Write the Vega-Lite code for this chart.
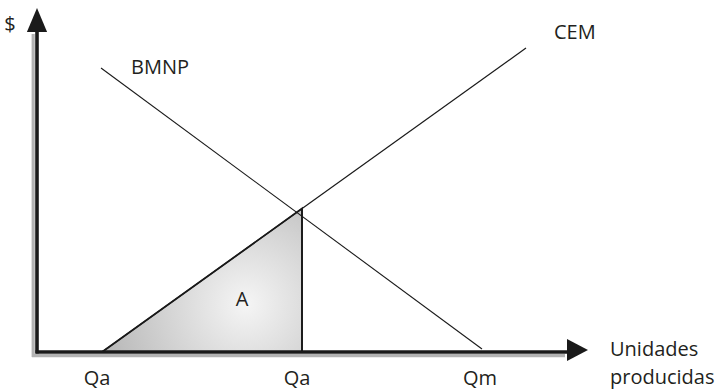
{
  "$schema": "https://vega.github.io/schema/vega-lite/v6.json",
  "width": 718,
  "height": 392,
  "padding": 0,
  "autosize": {"type": "fit", "contains": "padding"},
  "background": "white",
  "config": {"view": {"stroke": null}},
  "datasets": {
    "bmnp": [{"x": 64, "y": 284}, {"x": 445, "y": 3}],
    "cem": [{"x": 65, "y": 0}, {"x": 489, "y": 304}],
    "areaA": [{"x": 65, "y": 0}, {"x": 265, "y": 143.4}],
    "vline": [{"x": 265, "y": 0, "y2": 143.4}],
    "axes": [
      {"name": "yaxis", "x": 0, "x2": 0, "y": -1.5, "y2": 320},
      {"name": "xaxis", "x": -1.5, "x2": 531, "y": 0, "y2": 0}
    ],
    "shadows": [
      {"name": "yshadow", "x": -3.8, "x2": -3.8, "y": -5, "y2": 318},
      {"name": "xshadow", "x": -5, "x2": 528, "y": -3.6, "y2": -3.6}
    ],
    "arrowUp": [{"x": 0, "y": 320}],
    "arrowRight": [{"x": 530, "y": 2}],
    "labels": [
      {"t": "$", "x": -27, "y": 327, "a": "center"},
      {"t": "BMNP", "x": 94, "y": 284, "a": "left"},
      {"t": "CEM", "x": 517, "y": 319, "a": "left"},
      {"t": "A", "x": 205, "y": 52, "a": "center"},
      {"t": "Qa", "x": 60, "y": -27, "a": "center"},
      {"t": "Qa", "x": 260, "y": -27, "a": "center"},
      {"t": "Qm", "x": 443, "y": -27, "a": "center"},
      {"t": "Unidades", "x": 573, "y": 2, "a": "left"},
      {"t": "producidas", "x": 573, "y": -26, "a": "left"}
    ]
  },
  "layer": [
    {
      "data": {"name": "shadows"},
      "mark": {"type": "rule", "color": "#b3b3b3", "strokeWidth": 3.2},
      "encoding": {
        "x": {"field": "x", "type": "quantitative", "scale": {"domain": [-37, 681], "nice": false, "zero": false}, "axis": null},
        "x2": {"field": "x2"},
        "y": {"field": "y", "type": "quantitative", "scale": {"domain": [-40, 352], "nice": false, "zero": false}, "axis": null},
        "y2": {"field": "y2"}
      }
    },
    {
      "data": {"name": "areaA"},
      "mark": {
        "type": "area",
        "fill": {
          "gradient": "radial",
          "x1": 0.72, "y1": 0.62, "r1": 0,
          "x2": 0.72, "y2": 0.62, "r2": 0.8,
          "stops": [
            {"offset": 0, "color": "#f5f5f5"},
            {"offset": 1, "color": "#b2b2b2"}
          ]
        },
        "stroke": "#1a1a1a",
        "strokeWidth": 1.8
      },
      "encoding": {
        "x": {"field": "x", "type": "quantitative", "axis": null},
        "y": {"field": "y", "type": "quantitative", "axis": null},
        "y2": {"datum": 0}
      }
    },
    {
      "data": {"name": "bmnp"},
      "mark": {"type": "line", "color": "#1a1a1a", "strokeWidth": 1.1},
      "encoding": {
        "x": {"field": "x", "type": "quantitative", "axis": null},
        "y": {"field": "y", "type": "quantitative", "axis": null}
      }
    },
    {
      "data": {"name": "cem"},
      "mark": {"type": "line", "color": "#1a1a1a", "strokeWidth": 1.2},
      "encoding": {
        "x": {"field": "x", "type": "quantitative", "axis": null},
        "y": {"field": "y", "type": "quantitative", "axis": null}
      }
    },
    {
      "data": {"name": "vline"},
      "mark": {"type": "rule", "color": "#1a1a1a", "strokeWidth": 1.6},
      "encoding": {
        "x": {"field": "x", "type": "quantitative", "axis": null},
        "y": {"field": "y", "type": "quantitative", "axis": null},
        "y2": {"field": "y2"}
      }
    },
    {
      "data": {"name": "axes"},
      "mark": {"type": "rule", "color": "#1a1a1a", "strokeWidth": 3.6},
      "encoding": {
        "x": {"field": "x", "type": "quantitative", "axis": null},
        "x2": {"field": "x2"},
        "y": {"field": "y", "type": "quantitative", "axis": null},
        "y2": {"field": "y2"}
      }
    },
    {
      "data": {"name": "arrowUp"},
      "mark": {"type": "point", "shape": "M0,-1L0.42,0L-0.42,0Z", "size": 2304, "filled": true, "color": "#1a1a1a", "opacity": 1, "strokeWidth": 0},
      "encoding": {
        "x": {"field": "x", "type": "quantitative", "axis": null},
        "y": {"field": "y", "type": "quantitative", "axis": null}
      }
    },
    {
      "data": {"name": "arrowRight"},
      "mark": {"type": "point", "shape": "M1,0L0,0.52L0,-0.52Z", "size": 1764, "filled": true, "color": "#1a1a1a", "opacity": 1, "strokeWidth": 0},
      "encoding": {
        "x": {"field": "x", "type": "quantitative", "axis": null},
        "y": {"field": "y", "type": "quantitative", "axis": null}
      }
    },
    {
      "data": {"name": "labels"},
      "transform": [{"filter": "datum.a === 'center'"}],
      "mark": {"type": "text", "font": "Open Sans", "fontSize": 20, "color": "#231f20", "baseline": "middle", "align": "center"},
      "encoding": {
        "x": {"field": "x", "type": "quantitative", "axis": null},
        "y": {"field": "y", "type": "quantitative", "axis": null},
        "text": {"field": "t"}
      }
    },
    {
      "data": {"name": "labels"},
      "transform": [{"filter": "datum.a === 'left'"}],
      "mark": {"type": "text", "font": "Open Sans", "fontSize": 20, "color": "#231f20", "baseline": "middle", "align": "left"},
      "encoding": {
        "x": {"field": "x", "type": "quantitative", "axis": null},
        "y": {"field": "y", "type": "quantitative", "axis": null},
        "text": {"field": "t"}
      }
    }
  ]
}
